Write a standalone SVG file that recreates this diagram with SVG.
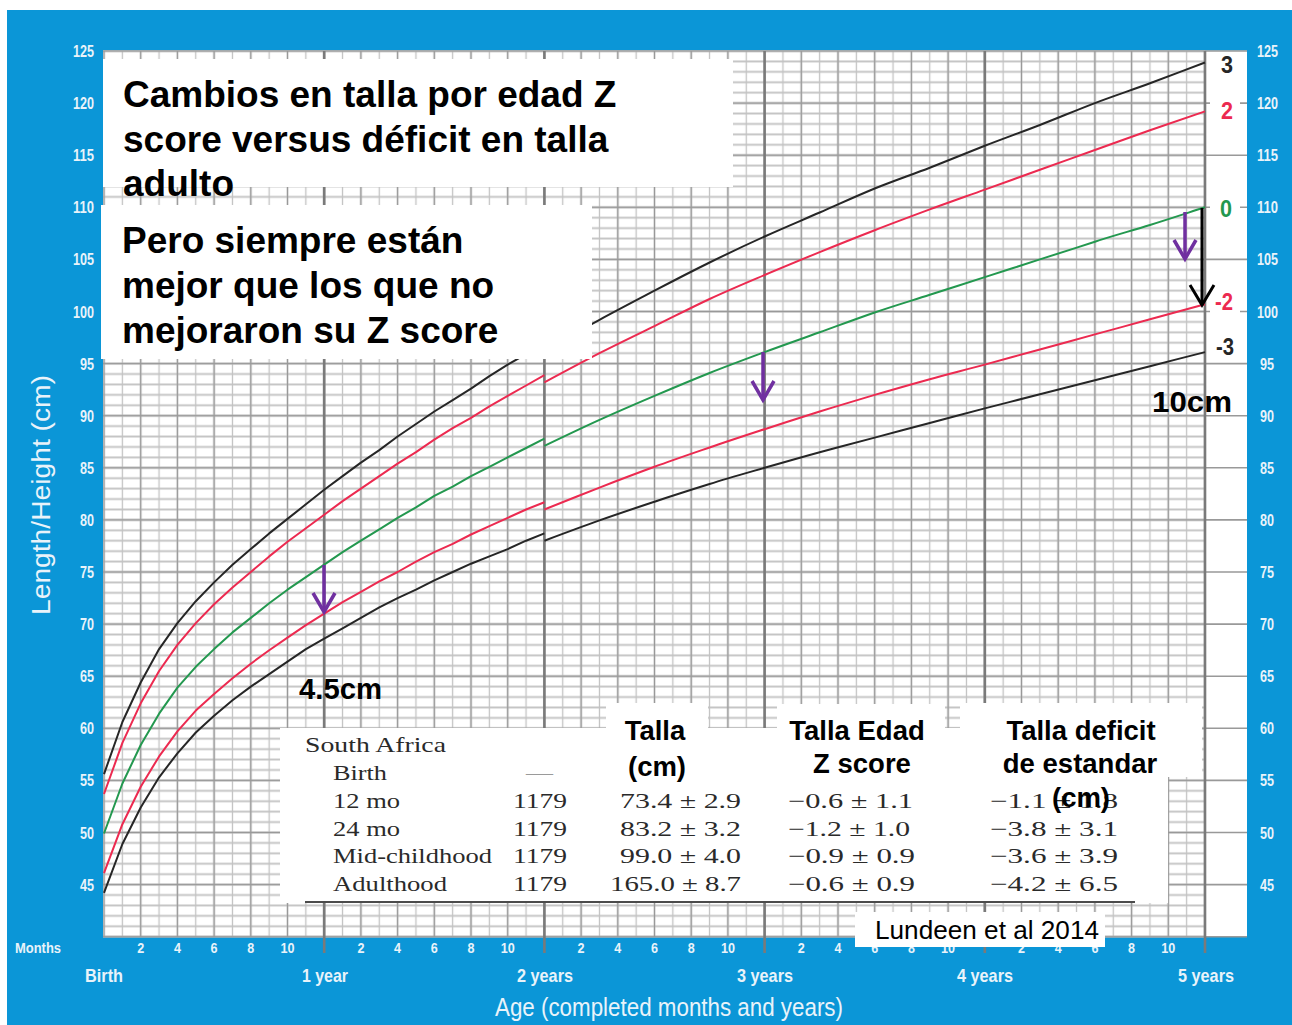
<svg xmlns="http://www.w3.org/2000/svg" width="1292" height="1025" viewBox="0 0 1292 1025">
<style>
.ax{font-family:"Liberation Sans",Arial,sans-serif;font-weight:bold;fill:#e9f3fa;font-size:17px}
.mo{font-family:"Liberation Sans",Arial,sans-serif;font-weight:bold;fill:#e9f3fa;font-size:15px}
.yr{font-family:"Liberation Sans",Arial,sans-serif;font-weight:bold;fill:#e9f3fa;font-size:19px}
.ttl{font-family:"Liberation Sans",Arial,sans-serif;fill:#e9f3fa;font-size:26px}
.big{font-family:"Liberation Sans",Arial,sans-serif;font-weight:bold;fill:#000;font-size:37px}
.hdr{font-family:"Liberation Sans",Arial,sans-serif;font-weight:bold;fill:#000;font-size:27.5px}
.ann{font-family:"Liberation Sans",Arial,sans-serif;font-weight:bold;fill:#000;font-size:29px}
.tbl{font-family:"Liberation Serif","Times New Roman",serif;fill:#2a2a2a;font-size:21px}
.lab{font-family:"Liberation Sans",Arial,sans-serif;font-weight:bold;font-size:23px}
.crv{fill:none;stroke-width:2;stroke-linejoin:round}
.k{stroke:#262626}.r{stroke:#ec2a50}.g{stroke:#23984f}
.box{fill:#fff}
</style>
<defs>
<pattern id="pH1" patternUnits="userSpaceOnUse" x="0" y="45.79" width="50" height="10.42"><line x1="0" y1="5.21" x2="50" y2="5.21" stroke="#c4c4c4" stroke-width="1.7"/></pattern>
<pattern id="pH5" patternUnits="userSpaceOnUse" x="0" y="24.95" width="50" height="52.1"><line x1="0" y1="26.05" x2="50" y2="26.05" stroke="#999" stroke-width="1.6"/></pattern>
<pattern id="pV1" patternUnits="userSpaceOnUse" x="94.825" y="0" width="18.35" height="50"><line x1="9.175" y1="0" x2="9.175" y2="50" stroke="#c2c2c2" stroke-width="1.3"/></pattern>
<pattern id="pV2" patternUnits="userSpaceOnUse" x="85.65" y="0" width="36.7" height="50"><line x1="18.35" y1="0" x2="18.35" y2="50" stroke="#999" stroke-width="1.4"/></pattern>
<marker id="headP" markerUnits="userSpaceOnUse" viewBox="-25 -15 30 30" refX="0" refY="0" markerWidth="30" markerHeight="30" orient="auto" overflow="visible"><path d="M-19,-11 L0,0 L-19,11" fill="none" stroke="#7030a0" stroke-width="3.5"/></marker>
<marker id="headK" markerUnits="userSpaceOnUse" viewBox="-25 -15 30 30" refX="0" refY="0" markerWidth="30" markerHeight="30" orient="auto" overflow="visible"><path d="M-20,-12 L0,0 L-20,12" fill="none" stroke="#000" stroke-width="3"/></marker>
</defs>

<g id="background">
<rect x="0" y="0" width="1292" height="1025" fill="#fff"/>
<rect x="7" y="10" width="1285" height="1015" fill="#0b96d7"/>
<rect x="103" y="50.5" width="1144" height="886.5" fill="#fff"/>
</g>

<g id="grid">
<rect x="103" y="50" width="1102" height="888" fill="url(#pH1)"/>
<rect x="103" y="51" width="1103" height="886" fill="url(#pV1)"/>
<rect x="103" y="51" width="1103" height="886" fill="url(#pV2)"/>
<rect x="103" y="50" width="1102" height="888" fill="url(#pH5)"/>
<path d="M1205 51H1247M1205 155.2H1247M1205 259.4H1247M1205 363.6H1247M1205 415.7H1247M1205 467.8H1247M1205 519.9H1247M1205 572H1247M1205 624.1H1247M1205 676.2H1247M1205 728.3H1247M1205 780.4H1247M1205 832.5H1247M1205 884.6H1247M1205 936.7H1247" stroke="#999" stroke-width="1.6" fill="none"/>
<path d="M1205 103.1H1210M1240 103.1H1247M1205 207.3H1210M1240 207.3H1247M1205 311.5H1210M1240 311.5H1247" stroke="#999" stroke-width="1.6" fill="none"/>
<path d="M324.2 51V953M544.4 51V953M764.6 51V953M984.8 51V953M1205 51V953" stroke="#7a7a7a" stroke-width="2.6" fill="none"/>
</g>

<g id="curves">
<polyline class="crv k" points="104,892.9 122.4,844 140.7,807.5 159.1,777.3 177.4,753.3 195.8,732.5 214.1,715.8 232.5,700.2 250.8,686.6 269.2,674.1 287.5,661.6 305.9,649.1 324.2,638.7 342.6,628.3 360.9,617.9 379.3,607.4 397.6,598.1 416,589.7 434.3,580.3 452.7,572 471,563.7 489.4,556.4 507.7,549.1 526.1,540.7 544.4,533.4"/>
<path class="crv k" d="M544.4,540.7 S581.2,526.9 599.5,520.4 S636.2,507.8 654.5,501.7 S691.3,489.7 709.6,484 S746.3,473.1 764.6,467.8 S801.4,457.2 819.7,452.2 S856.4,442.5 874.7,437.6 S911.5,427.9 929.8,423 S966.5,413.2 984.8,408.4 S1021.6,399 1039.9,394.3 S1076.6,385 1094.9,380.3 S1131.7,370.9 1150,366.2 S1186.7,356.8 1205,352.1"/>
<polyline class="crv r" points="104,873.1 122.4,824.2 140.7,786.7 159.1,756.4 177.4,731.4 195.8,710.6 214.1,693.9 232.5,678.3 250.8,663.7 269.2,650.2 287.5,637.6 305.9,625.1 324.2,613.7 342.6,602.2 360.9,591.8 379.3,581.4 397.6,572 416,561.6 434.3,552.2 452.7,543.9 471,534.5 489.4,526.2 507.7,517.8 526.1,509.5 544.4,502.2"/>
<path class="crv r" d="M544.4,509.5 S581.2,494.7 599.5,487.6 S636.2,473.5 654.5,466.8 S691.3,453.8 709.6,447.5 S746.3,435.2 764.6,429.2 S801.4,417.2 819.7,411.5 S856.4,400.3 874.7,394.9 S911.5,384.3 929.8,379.2 S966.5,369.6 984.8,364.6 S1021.6,354.5 1039.9,349.5 S1076.6,339.4 1094.9,334.4 S1131.7,324.3 1150,319.3 S1186.7,309.2 1205,304.2"/>
<polyline class="crv g" points="104,833.5 122.4,783.5 140.7,745 159.1,713.7 177.4,687.7 195.8,666.8 214.1,649.1 232.5,632.4 250.8,617.9 269.2,603.3 287.5,589.7 305.9,577.2 324.2,564.7 342.6,552.2 360.9,540.7 379.3,529.3 397.6,517.8 416,507.4 434.3,495.9 452.7,486.6 471,476.1 489.4,466.8 507.7,457.4 526.1,448 544.4,438.6"/>
<path class="crv g" d="M544.4,445.9 S581.2,428.2 599.5,419.9 S636.2,403.7 654.5,395.9 S691.3,380.3 709.6,373 S746.3,358.9 764.6,352.1 S801.4,338.9 819.7,332.3 S856.4,318.8 874.7,312.5 S911.5,300.7 929.8,294.8 S966.5,283 984.8,277.1 S1021.6,265.3 1039.9,259.4 S1076.6,247.7 1094.9,241.7 S1131.7,230.7 1150,225 S1186.7,213.2 1205,207.3"/>
<polyline class="crv r" points="104,794 122.4,742.9 140.7,703.3 159.1,671 177.4,644.9 195.8,623.1 214.1,604.3 232.5,587.6 250.8,572 269.2,556.4 287.5,541.8 305.9,528.2 324.2,514.7 342.6,501.1 360.9,488.6 379.3,476.1 397.6,463.6 416,452.2 434.3,439.7 452.7,428.2 471,417.8 489.4,406.3 507.7,395.9 526.1,385.5 544.4,375.1"/>
<path class="crv r" d="M544.4,382.4 S581.2,362.6 599.5,353.2 S636.2,335.1 654.5,326.1 S691.3,307.5 709.6,299 S746.3,282.8 764.6,275 S801.4,259.6 819.7,252.1 S856.4,237.3 874.7,230.2 S911.5,216.2 929.8,209.4 S966.5,196.2 984.8,189.6 S1021.6,176.4 1039.9,169.8 S1076.6,156.6 1094.9,150 S1131.7,136.6 1150,130.2 S1186.7,117.7 1205,111.4"/>
<polyline class="crv k" points="104,774.1 122.4,722 140.7,682.5 159.1,649.1 177.4,623.1 195.8,601.2 214.1,582.4 232.5,564.7 250.8,549.1 269.2,533.4 287.5,518.9 305.9,504.3 324.2,489.7 342.6,476.1 360.9,462.6 379.3,450.1 397.6,436.5 416,424 434.3,411.5 452.7,400.1 471,388.6 489.4,376.1 507.7,364.6 526.1,354.2 544.4,342.8"/>
<path class="crv k" d="M544.4,350.1 S581.2,329.7 599.5,319.8 S636.2,300.3 654.5,290.7 S691.3,271.5 709.6,262.5 S746.3,244.8 764.6,236.5 S801.4,220.5 819.7,212.5 S856.4,196 874.7,188.5 S911.5,174.8 929.8,167.7 S966.5,152.9 984.8,145.8 S1021.6,132.1 1039.9,125 S1076.6,110.1 1094.9,103.1 S1131.7,90.1 1150,83.3 S1186.7,69.4 1205,62.5"/>
</g>

<g id="curve-labels">
<text class="lab" x="1227" y="73" text-anchor="middle" textLength="12" lengthAdjust="spacingAndGlyphs" fill="#262626">3</text>
<text class="lab" x="1227" y="119" text-anchor="middle" textLength="12" lengthAdjust="spacingAndGlyphs" fill="#ec2a50">2</text>
<text class="lab" x="1226" y="217" text-anchor="middle" textLength="12" lengthAdjust="spacingAndGlyphs" fill="#23984f">0</text>
<text class="lab" x="1224" y="310" text-anchor="middle" textLength="18" lengthAdjust="spacingAndGlyphs" fill="#ec2a50">-2</text>
<text class="lab" x="1225" y="355" text-anchor="middle" textLength="18" lengthAdjust="spacingAndGlyphs" fill="#262626">-3</text>
</g>

<g id="y-axis">
<text class="ttl" transform="translate(50 495) rotate(-90)" text-anchor="middle" textLength="240" lengthAdjust="spacingAndGlyphs">Length/Height (cm)</text>
<g class="ax" text-anchor="end">
<text x="94" y="57" textLength="21" lengthAdjust="spacingAndGlyphs">125</text>
<text x="94" y="109.1" textLength="21" lengthAdjust="spacingAndGlyphs">120</text>
<text x="94" y="161.2" textLength="21" lengthAdjust="spacingAndGlyphs">115</text>
<text x="94" y="213.3" textLength="21" lengthAdjust="spacingAndGlyphs">110</text>
<text x="94" y="265.4" textLength="21" lengthAdjust="spacingAndGlyphs">105</text>
<text x="94" y="317.5" textLength="21" lengthAdjust="spacingAndGlyphs">100</text>
<text x="94" y="369.6" textLength="14" lengthAdjust="spacingAndGlyphs">95</text>
<text x="94" y="421.7" textLength="14" lengthAdjust="spacingAndGlyphs">90</text>
<text x="94" y="473.8" textLength="14" lengthAdjust="spacingAndGlyphs">85</text>
<text x="94" y="525.9" textLength="14" lengthAdjust="spacingAndGlyphs">80</text>
<text x="94" y="578" textLength="14" lengthAdjust="spacingAndGlyphs">75</text>
<text x="94" y="630.1" textLength="14" lengthAdjust="spacingAndGlyphs">70</text>
<text x="94" y="682.2" textLength="14" lengthAdjust="spacingAndGlyphs">65</text>
<text x="94" y="734.3" textLength="14" lengthAdjust="spacingAndGlyphs">60</text>
<text x="94" y="786.4" textLength="14" lengthAdjust="spacingAndGlyphs">55</text>
<text x="94" y="838.5" textLength="14" lengthAdjust="spacingAndGlyphs">50</text>
<text x="94" y="890.6" textLength="14" lengthAdjust="spacingAndGlyphs">45</text>
</g>
<g class="ax" text-anchor="start">
<text x="1257" y="57" textLength="21" lengthAdjust="spacingAndGlyphs">125</text>
<text x="1257" y="109.1" textLength="21" lengthAdjust="spacingAndGlyphs">120</text>
<text x="1257" y="161.2" textLength="21" lengthAdjust="spacingAndGlyphs">115</text>
<text x="1257" y="213.3" textLength="21" lengthAdjust="spacingAndGlyphs">110</text>
<text x="1257" y="265.4" textLength="21" lengthAdjust="spacingAndGlyphs">105</text>
<text x="1257" y="317.5" textLength="21" lengthAdjust="spacingAndGlyphs">100</text>
<text x="1260" y="369.6" textLength="14" lengthAdjust="spacingAndGlyphs">95</text>
<text x="1260" y="421.7" textLength="14" lengthAdjust="spacingAndGlyphs">90</text>
<text x="1260" y="473.8" textLength="14" lengthAdjust="spacingAndGlyphs">85</text>
<text x="1260" y="525.9" textLength="14" lengthAdjust="spacingAndGlyphs">80</text>
<text x="1260" y="578" textLength="14" lengthAdjust="spacingAndGlyphs">75</text>
<text x="1260" y="630.1" textLength="14" lengthAdjust="spacingAndGlyphs">70</text>
<text x="1260" y="682.2" textLength="14" lengthAdjust="spacingAndGlyphs">65</text>
<text x="1260" y="734.3" textLength="14" lengthAdjust="spacingAndGlyphs">60</text>
<text x="1260" y="786.4" textLength="14" lengthAdjust="spacingAndGlyphs">55</text>
<text x="1260" y="838.5" textLength="14" lengthAdjust="spacingAndGlyphs">50</text>
<text x="1260" y="890.6" textLength="14" lengthAdjust="spacingAndGlyphs">45</text>
</g>
</g>

<g id="x-axis">
<text class="mo" x="15" y="953" textLength="46" lengthAdjust="spacingAndGlyphs">Months</text>
<g class="mo" text-anchor="middle">
<text x="140.7" y="953" textLength="7" lengthAdjust="spacingAndGlyphs">2</text>
<text x="177.4" y="953" textLength="7" lengthAdjust="spacingAndGlyphs">4</text>
<text x="214.1" y="953" textLength="7" lengthAdjust="spacingAndGlyphs">6</text>
<text x="250.8" y="953" textLength="7" lengthAdjust="spacingAndGlyphs">8</text>
<text x="287.5" y="953" textLength="14" lengthAdjust="spacingAndGlyphs">10</text>
<text x="360.9" y="953" textLength="7" lengthAdjust="spacingAndGlyphs">2</text>
<text x="397.6" y="953" textLength="7" lengthAdjust="spacingAndGlyphs">4</text>
<text x="434.3" y="953" textLength="7" lengthAdjust="spacingAndGlyphs">6</text>
<text x="471" y="953" textLength="7" lengthAdjust="spacingAndGlyphs">8</text>
<text x="507.7" y="953" textLength="14" lengthAdjust="spacingAndGlyphs">10</text>
<text x="581.1" y="953" textLength="7" lengthAdjust="spacingAndGlyphs">2</text>
<text x="617.8" y="953" textLength="7" lengthAdjust="spacingAndGlyphs">4</text>
<text x="654.5" y="953" textLength="7" lengthAdjust="spacingAndGlyphs">6</text>
<text x="691.2" y="953" textLength="7" lengthAdjust="spacingAndGlyphs">8</text>
<text x="727.9" y="953" textLength="14" lengthAdjust="spacingAndGlyphs">10</text>
<text x="801.3" y="953" textLength="7" lengthAdjust="spacingAndGlyphs">2</text>
<text x="838" y="953" textLength="7" lengthAdjust="spacingAndGlyphs">4</text>
<text x="874.7" y="953" textLength="7" lengthAdjust="spacingAndGlyphs">6</text>
<text x="911.4" y="953" textLength="7" lengthAdjust="spacingAndGlyphs">8</text>
<text x="948.1" y="953" textLength="14" lengthAdjust="spacingAndGlyphs">10</text>
<text x="1021.5" y="953" textLength="7" lengthAdjust="spacingAndGlyphs">2</text>
<text x="1058.2" y="953" textLength="7" lengthAdjust="spacingAndGlyphs">4</text>
<text x="1094.9" y="953" textLength="7" lengthAdjust="spacingAndGlyphs">6</text>
<text x="1131.6" y="953" textLength="7" lengthAdjust="spacingAndGlyphs">8</text>
<text x="1168.3" y="953" textLength="14" lengthAdjust="spacingAndGlyphs">10</text>
</g>
<g class="yr" text-anchor="middle">
<text x="104" y="982" textLength="38" lengthAdjust="spacingAndGlyphs">Birth</text>
<text x="325" y="982" textLength="46" lengthAdjust="spacingAndGlyphs">1 year</text>
<text x="545" y="982" textLength="56" lengthAdjust="spacingAndGlyphs">2 years</text>
<text x="765" y="982" textLength="56" lengthAdjust="spacingAndGlyphs">3 years</text>
<text x="985" y="982" textLength="56" lengthAdjust="spacingAndGlyphs">4 years</text>
<text x="1206" y="982" textLength="56" lengthAdjust="spacingAndGlyphs">5 years</text>
</g>
<text class="ttl" x="669" y="1016" text-anchor="middle" textLength="348" lengthAdjust="spacingAndGlyphs">Age (completed months and years)</text>
</g>

<g id="title-box">
<rect class="box" x="103" y="59" width="630" height="128"/>
<text class="big" x="123" y="107">Cambios en talla por edad Z</text>
<text class="big" x="123" y="151.5">score versus déficit en talla</text>
<text class="big" x="123" y="196">adulto</text>
</g>

<g id="note-box">
<rect class="box" x="101" y="205" width="491" height="154"/>
<text class="big" x="122" y="253">Pero siempre están</text>
<text class="big" x="122" y="298">mejor que los que no</text>
<text class="big" x="122" y="343">mejoraron su Z score</text>
</g>

<g id="table">
<rect class="box" x="280" y="728" width="888" height="175"/>
<rect class="box" x="606" y="703" width="102" height="30"/>
<rect class="box" x="777" y="704" width="168" height="30"/>
<rect class="box" x="960" y="703" width="242" height="74"/>
<line x1="305" y1="902" x2="1135" y2="902" stroke="#111" stroke-width="1.6"/>
<g class="tbl">
<text x="305" y="752" textLength="141" lengthAdjust="spacingAndGlyphs">South Africa</text>
<text x="333" y="780" textLength="54" lengthAdjust="spacingAndGlyphs">Birth</text>
<text x="333" y="808" textLength="67" lengthAdjust="spacingAndGlyphs">12 mo</text>
<text x="333" y="836" textLength="67" lengthAdjust="spacingAndGlyphs">24 mo</text>
<text x="333" y="863" textLength="159" lengthAdjust="spacingAndGlyphs">Mid-childhood</text>
<text x="333" y="891" textLength="114" lengthAdjust="spacingAndGlyphs">Adulthood</text>
<text x="539.5" y="780" text-anchor="middle" textLength="27" lengthAdjust="spacingAndGlyphs" fill="#9a9a9a">—</text>
<text x="513" y="808" textLength="54" lengthAdjust="spacingAndGlyphs">1179</text>
<text x="513" y="836" textLength="54" lengthAdjust="spacingAndGlyphs">1179</text>
<text x="513" y="863" textLength="54" lengthAdjust="spacingAndGlyphs">1179</text>
<text x="513" y="891" textLength="54" lengthAdjust="spacingAndGlyphs">1179</text>
<text x="620" y="808" textLength="121" lengthAdjust="spacingAndGlyphs">73.4 ± 2.9</text>
<text x="620" y="836" textLength="121" lengthAdjust="spacingAndGlyphs">83.2 ± 3.2</text>
<text x="620" y="863" textLength="121" lengthAdjust="spacingAndGlyphs">99.0 ± 4.0</text>
<text x="610" y="891" textLength="131" lengthAdjust="spacingAndGlyphs">165.0 ± 8.7</text>
<text x="788" y="808" textLength="125" lengthAdjust="spacingAndGlyphs">−0.6 ± 1.1</text>
<text x="788" y="836" textLength="122" lengthAdjust="spacingAndGlyphs">−1.2 ± 1.0</text>
<text x="788" y="863" textLength="127" lengthAdjust="spacingAndGlyphs">−0.9 ± 0.9</text>
<text x="788" y="891" textLength="127" lengthAdjust="spacingAndGlyphs">−0.6 ± 0.9</text>
<text x="990" y="808" textLength="128" lengthAdjust="spacingAndGlyphs">−1.1 ± 1.8</text>
<text x="990" y="836" textLength="128" lengthAdjust="spacingAndGlyphs">−3.8 ± 3.1</text>
<text x="990" y="863" textLength="128" lengthAdjust="spacingAndGlyphs">−3.6 ± 3.9</text>
<text x="990" y="891" textLength="128" lengthAdjust="spacingAndGlyphs">−4.2 ± 6.5</text>
</g>
<g class="hdr" text-anchor="middle">
<text x="655" y="740">Talla</text>
<text x="657" y="776">(cm)</text>
<text x="857" y="740">Talla Edad</text>
<text x="862" y="773">Z score</text>
<text x="1081" y="740">Talla deficit</text>
<text x="1080" y="773">de estandar</text>
<text x="1081" y="807">(cm)</text>
</g>
</g>

<g id="citation">
<rect class="box" x="855" y="912" width="250" height="35"/>
<text x="875" y="939" style="font-family:'Liberation Sans',Arial,sans-serif;font-size:26px;fill:#000" textLength="224" lengthAdjust="spacingAndGlyphs">Lundeen et al 2014</text>
</g>

<g id="annotations">
<text class="ann" x="299" y="699" textLength="83" lengthAdjust="spacingAndGlyphs">4.5cm</text>
<text class="ann" x="1152" y="412" textLength="80" lengthAdjust="spacingAndGlyphs">10cm</text>
</g>

<g id="connectors" fill="none">
<line x1="324" y1="565" x2="324" y2="612" stroke="#7030a0" stroke-width="3.5" marker-end="url(#headP)"/>
<line x1="763" y1="352" x2="763" y2="400" stroke="#7030a0" stroke-width="3.5" marker-end="url(#headP)"/>
<line x1="1185" y1="212" x2="1185" y2="259" stroke="#7030a0" stroke-width="3.5" marker-end="url(#headP)"/>
<line x1="1202" y1="208" x2="1202" y2="305" stroke="#000" stroke-width="3" marker-end="url(#headK)"/>
</g>
</svg>
